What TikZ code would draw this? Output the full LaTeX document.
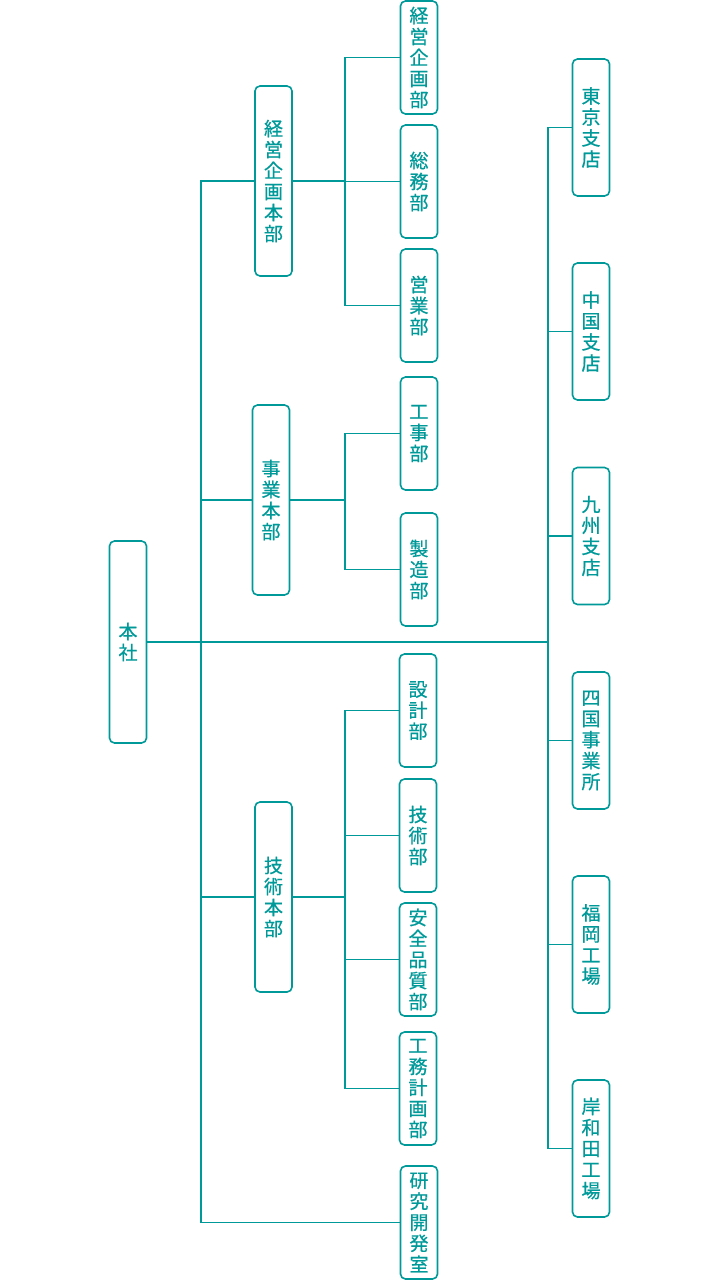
\documentclass[tikz,border=0pt]{standalone}
\usepackage{fontspec}
\setmainfont{Noto Sans CJK JP}[FakeBold=0.6]
\definecolor{teal1}{RGB}{0,153,153}
\begin{document}
\begin{tikzpicture}[x=1pt,y=-1pt,
  box/.style={draw=teal1,line width=1.6pt,rounded corners=5pt,fill=white,
    minimum width=37pt,inner sep=0pt,align=center,text=teal1,
    font=\fontsize{19}{21}\selectfont},
  tall/.style={box,minimum height=190pt},
  mid/.style={box,minimum height=137pt},
  small/.style={box,minimum height=113pt},
  conn/.style={draw=teal1,line width=1.4pt}]
\useasboundingbox (0,0) rectangle (720,1280);
\coordinate (LT) at (201,0);
\coordinate (M) at (345,0);
\coordinate (RT) at (548,0);
% nodes
\node[box,minimum height=202pt] (honsha) at (128,642) {本\\社};
\node[tall] (keieihonbu) at (273.5,181) {経\\営\\企\\画\\本\\部};
\node[tall] (jigyohonbu) at (271,500) {事\\業\\本\\部};
\node[tall] (gijutsuhonbu) at (273.5,897) {技\\術\\本\\部};
\node[small] (keieikikaku) at (419,57.5) {経\\営\\企\\画\\部};
\node[small] (somu) at (419,181.5) {総\\務\\部};
\node[small] (eigyo) at (419,305.5) {営\\業\\部};
\node[small] (koji) at (419,433.5) {工\\事\\部};
\node[small] (seizo) at (419,569.5) {製\\造\\部};
\node[small] (sekkei) at (418,710.5) {設\\計\\部};
\node[small] (gijutsu) at (418,835.5) {技\\術\\部};
\node[small] (anzen) at (418,959.5) {安\\全\\品\\質\\部};
\node[small] (komu) at (418,1088.5) {工\\務\\計\\画\\部};
\node[small] (kenkyu) at (419,1222.5) {研\\究\\開\\発\\室};
\node[mid] (tokyo) at (591,127.5) {東\\京\\支\\店};
\node[mid] (chugoku) at (591,331.5) {中\\国\\支\\店};
\node[mid] (kyushu) at (591,536) {九\\州\\支\\店};
\node[mid] (shikoku) at (591,740.5) {四\\国\\事\\業\\所};
\node[mid] (fukuoka) at (591,944.5) {福\\岡\\工\\場};
\node[mid] (kishiwada) at (591,1148.5) {岸\\和\\田\\工\\場};
% main connectors
\draw[conn] (honsha.east) -- (honsha.east -| RT);
\draw[conn] (keieihonbu.west) -- (keieihonbu.west -| LT) -- (kenkyu.west -| LT) -- (kenkyu.west);
\draw[conn] (jigyohonbu.west) -- (jigyohonbu.west -| LT);
\draw[conn] (gijutsuhonbu.west) -- (gijutsuhonbu.west -| LT);
% 経営企画本部
\draw[conn] (keieihonbu.east) -- (keieihonbu.east -| M);
\draw[conn] (keieikikaku.west) -- (keieikikaku.west -| M) -- (eigyo.west -| M) -- (eigyo.west);
\draw[conn] (somu.west) -- (somu.west -| M);
% 事業本部
\draw[conn] (jigyohonbu.east) -- (jigyohonbu.east -| M);
\draw[conn] (koji.west) -- (koji.west -| M) -- (seizo.west -| M) -- (seizo.west);
% 技術本部
\draw[conn] (gijutsuhonbu.east) -- (gijutsuhonbu.east -| M);
\draw[conn] (sekkei.west) -- (sekkei.west -| M) -- (komu.west -| M) -- (komu.west);
\draw[conn] (gijutsu.west) -- (gijutsu.west -| M);
\draw[conn] (anzen.west) -- (anzen.west -| M);
% right branch
\draw[conn] (tokyo.west) -- (tokyo.west -| RT) -- (kishiwada.west -| RT) -- (kishiwada.west);
\draw[conn] (chugoku.west) -- (chugoku.west -| RT);
\draw[conn] (kyushu.west) -- (kyushu.west -| RT);
\draw[conn] (shikoku.west) -- (shikoku.west -| RT);
\draw[conn] (fukuoka.west) -- (fukuoka.west -| RT);
\end{tikzpicture}
\end{document}
